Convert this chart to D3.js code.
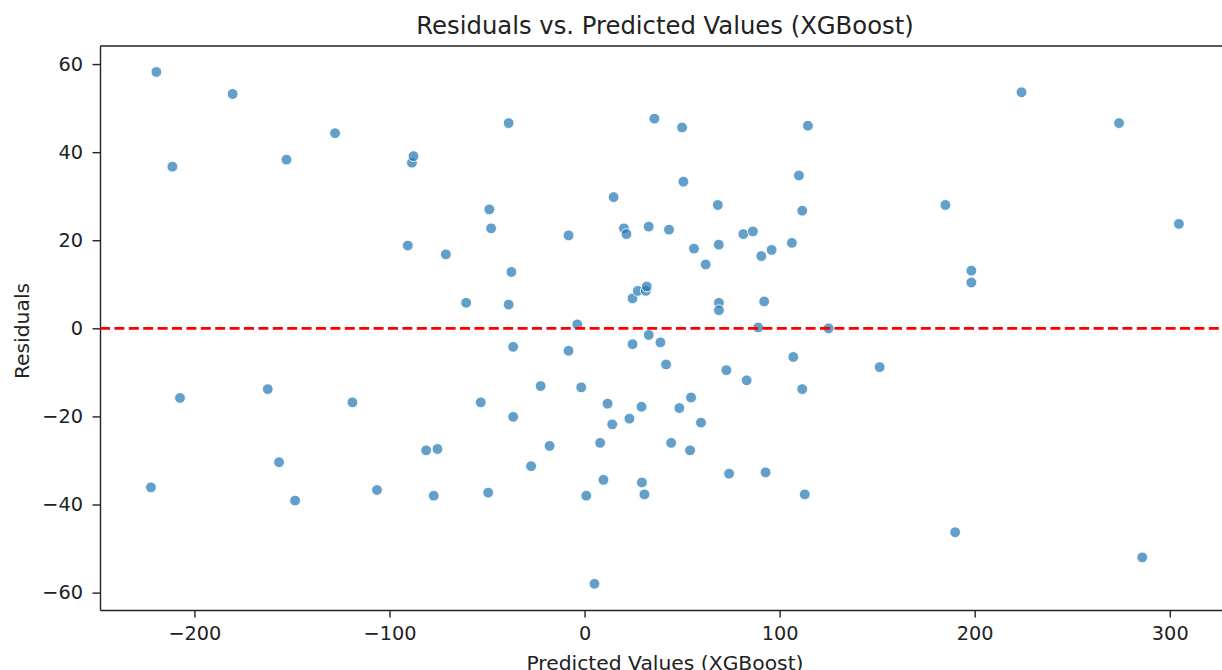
<!DOCTYPE html>
<html>
<head>
<meta charset="utf-8">
<script src="https://cdn.jsdelivr.net/npm/d3@7"></script>
<style>
	body { margin:0; background:#fff; }
	#chart { width:1222px; height:670px; overflow:hidden; }
	text { font-family:"DejaVu Sans", sans-serif; fill:#222; }
	.axis path, .axis line { stroke:#222; stroke-width:1.4; }
</style>
</head>
<body>
<div id="chart"></div>
<script>

//data
const predicted = [
	-219.5, -211.3, -180.4, -152.8, -127.9, -207.4, -162.4, -119.0, -222.3, -156.6,
	-148.4, -106.4, -90.6, -88.5, -87.7, -81.2, -75.4, -77.3, -71.1, -60.7,
	-53.2, -49.4, -48.8, -47.9, -38.9, -37.5, -38.9, -36.6, -36.6, -27.4,
	-22.5, -17.9, -8.2, -8.2, -3.7, -1.7, 0.9, 5.1, 8.0, 9.7,
	11.8, 14.2, 14.9, 20.2, 21.5, 23.0, 24.6, 24.6, 27.3, 29.2,
	29.4, 30.7, 31.4, 31.9, 32.9, 32.9, 35.8, 38.9, 41.8, 43.3,
	44.4, 48.6, 50.0, 50.7, 54.1, 54.6, 56.1, 59.7, 62.1, 68.3,
	68.8, 68.9, 68.9, 72.7, 74.1, 81.4, 83.1, 86.3, 89.0, 90.6,
	92.1, 92.8, 95.9, 106.3, 107.0, 109.9, 111.6, 111.6, 112.9, 114.5,
	125.1, 151.3, 185.0, 190.0, 198.3, 198.3, 224.0, 274.0, 285.9, 304.7
];
const residuals = [
	58.2, 36.7, 53.2, 38.3, 44.3, -15.8, -13.8, -16.8, -36.1, -30.4,
	-39.1, -36.7, 18.8, 37.6, 39.1, -27.7, -27.4, -38.0, 16.8, 5.8,
	-16.8, -37.3, 27.0, 22.7, 46.6, 12.8, 5.4, -4.2, -20.1, -31.3,
	-13.1, -26.7, 21.1, -5.1, 0.9, -13.4, -38.0, -58.0, -26.0, -34.4,
	-17.1, -21.8, 29.8, 22.7, 21.4, -20.5, 6.8, -3.6, 8.5, -17.8,
	-35.0, -37.7, 8.5, 9.5, 23.1, -1.5, 47.6, -3.2, -8.2, 22.4,
	-26.0, -18.1, 45.6, 33.3, -27.7, -15.7, 18.1, -21.4, 14.5, 28.0,
	19.0, 5.8, 4.1, -9.5, -33.0, 21.4, -11.8, 22.0, 0.2, 16.4,
	6.1, -32.7, 17.8, 19.4, -6.5, 34.7, 26.7, -13.8, -37.7, 46.0,
	0.0, -8.8, 28.0, -46.3, 13.1, 10.4, 53.6, 46.6, -52.0, 23.7
];
const xTicks = [-200, -100, 0, 100, 200, 300];
const yTicks = [-60, -40, -20, 0, 20, 40, 60];

function graph(){

	//sizing (the right spine falls outside the window, as in the picture)
	let margin = {top:46, left:100};
	let width = 1222;
	let height = 670;
	let plotRight = 1231;
	let plotBottom = 610;

	let svg = d3.select("#chart")
		.append("svg")
		.attr("width", width)
		.attr("height", height);

	let data = predicted.map((p, i)=>{ return {p:p, r:residuals[i]}; });

	//scales
	const xScale = d3.scaleLinear()
		.domain([-248.4, 331.4])
		.range([margin.left, plotRight]);

	const yScale = d3.scaleLinear()
		.domain([-63.95, 64.1])
		.range([plotBottom, margin.top]);

	const fmt = (d)=>{ return d < 0 ? "\u2212" + Math.abs(d) : d; };

	const xAxis = d3.axisBottom(xScale)
		.tickValues(xTicks)
		.tickFormat(fmt)
		.tickSize(7.5)
		.tickPadding(8.5)
		.tickSizeOuter(0);

	const yAxis = d3.axisLeft(yScale)
		.tickValues(yTicks)
		.tickFormat(fmt)
		.tickSize(7.5)
		.tickPadding(9.5)
		.tickSizeOuter(0);

	//frame: top spine, left and bottom come with the axes
	svg.append("line")
		.attr("x1", margin.left).attr("x2", plotRight)
		.attr("y1", margin.top).attr("y2", margin.top)
		.attr("stroke", "#222").attr("stroke-width", 1.4);

	svg.append("g")
		.attr("class", "axis x_axis")
		.attr("transform", `translate(0,${plotBottom})`)
		.call(xAxis)
		.selectAll("text")
		.style("font-size", "19.3px");

	svg.append("g")
		.attr("class", "axis y_axis")
		.attr("transform", `translate(${margin.left},0)`)
		.call(yAxis)
		.selectAll("text")
		.style("font-size", "19.3px");

	//points
	svg.append("g")
		.selectAll("circle")
		.data(data)
		.enter()
		.append("circle")
		.attr("cx", (d)=>{ return xScale(d.p); })
		.attr("cy", (d)=>{ return yScale(d.r); })
		.attr("r", 5.4)
		.attr("fill", "#1f77b4")
		.attr("fill-opacity", 0.7)
		.attr("stroke", "#fff")
		.attr("stroke-width", 0.9);

	//zero line
	svg.append("line")
		.attr("x1", margin.left).attr("x2", plotRight)
		.attr("y1", yScale(0)).attr("y2", yScale(0))
		.attr("stroke", "red")
		.attr("stroke-width", 2.6)
		.attr("stroke-dasharray", "10,4.4");

	//titles
	svg.append("text")
		.attr("x", 665)
		.attr("y", 34)
		.attr("text-anchor", "middle")
		.style("font-size", "24.3px")
		.text("Residuals vs. Predicted Values (XGBoost)");

	svg.append("text")
		.attr("x", 665)
		.attr("y", 670)
		.attr("text-anchor", "middle")
		.style("font-size", "20.3px")
		.text("Predicted Values (XGBoost)");

	svg.append("text")
		.attr("transform", `translate(29.3,331) rotate(-90)`)
		.attr("text-anchor", "middle")
		.style("font-size", "20.3px")
		.text("Residuals");

} //graph

graph();
</script>
</body>
</html>
